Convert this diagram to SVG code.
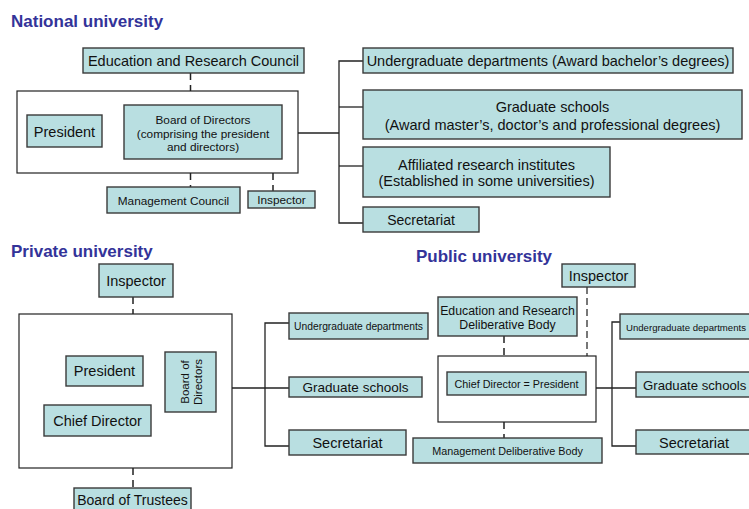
<svg xmlns="http://www.w3.org/2000/svg" width="749" height="509" viewBox="0 0 749 509">
  <style>
    .title { font-family: "Liberation Sans", Arial, sans-serif; font-weight: bold; font-size: 17px; fill: #333399; }
    .box { fill: #b9dfe1; stroke: #3a3a3a; stroke-width: 1.4; }
    .frame { fill: #ffffff; stroke: #222222; stroke-width: 1.2; }
    .t { font-family: "Liberation Sans", Arial, sans-serif; fill: #111111; text-anchor: middle; }
    .ts { font-family: "Liberation Sans", Arial, sans-serif; fill: #111111; text-anchor: start; }
    .line { fill: none; stroke: #222222; stroke-width: 1.3; }
    .dash { fill: none; stroke: #222222; stroke-width: 1.5; stroke-dasharray: 7 5; }
    .gdash { fill: none; stroke: #777777; stroke-width: 2; stroke-dasharray: 7 4; }
  </style>

  <!-- section headings -->
  <text class="title" x="11" y="27">National university</text>
  <text class="title" x="11" y="257">Private university</text>
  <text class="title" x="416" y="262">Public university</text>

  <!-- connectors -->
  <g id="connectors">
    <!-- national -->
    <path class="dash" d="M190.5 73 V91"/>
    <path class="dash" d="M190.5 173 V187"/>
    <path class="dash" d="M273 173 V191"/>
    <path class="line" d="M298 133 H339"/>
    <path class="line" d="M363 61 H339 V223 H363"/>
    <path class="line" d="M339 107 H363"/>
    <path class="line" d="M339 166 H363"/>
    <!-- private -->
    <path class="dash" d="M133 297 V314"/>
    <path class="dash" d="M133 468 V488"/>
    <path class="line" d="M232 388 H289"/>
    <path class="line" d="M289 323 H265 V446 H289"/>
    <!-- public -->
    <path class="dash" d="M504 336 V356"/>
    <path class="dash" d="M504 422 V438"/>
    <path class="gdash" d="M587 287 V356"/>
    <path class="line" d="M596 388 H636"/>
    <path class="line" d="M620 322 H612 V446 H636"/>
  </g>

  <!-- national university -->
  <g id="nat-erc">
    <rect class="box" x="83" y="48" width="221" height="25"/>
    <text class="t" x="193.5" y="66" font-size="14.5">Education and Research Council</text>
  </g>
  <g id="nat-frame">
    <rect class="frame" x="17" y="91" width="281" height="82"/>
  </g>
  <g id="nat-president">
    <rect class="box" x="27" y="115" width="75" height="32"/>
    <text class="t" x="64.5" y="136.5" font-size="14.5">President</text>
  </g>
  <g id="nat-board">
    <rect class="box" x="124" y="105" width="158" height="54"/>
    <text class="t" x="203" y="124" font-size="11.8">Board of Directors</text>
    <text class="t" x="203" y="137.5" font-size="11.8">(comprising the president</text>
    <text class="t" x="203" y="151" font-size="11.8">and directors)</text>
  </g>
  <g id="nat-mgmt">
    <rect class="box" x="107" y="187" width="133" height="26"/>
    <text class="t" x="173.5" y="204.5" font-size="11.8">Management Council</text>
  </g>
  <g id="nat-inspector">
    <rect class="box" x="248" y="191" width="67" height="17"/>
    <text class="t" x="281.5" y="203.5" font-size="11.8">Inspector</text>
  </g>
  <g id="nat-undergrad">
    <rect class="box" x="363" y="48" width="370" height="25"/>
    <text class="t" x="548" y="66" font-size="14.5">Undergraduate departments (Award bachelor’s degrees)</text>
  </g>
  <g id="nat-graduate">
    <rect class="box" x="363" y="90" width="379" height="49"/>
    <text class="t" x="552.5" y="111.5" font-size="14.5">Graduate schools</text>
    <text class="t" x="552.5" y="130" font-size="14.5">(Award master’s, doctor’s and professional degrees)</text>
  </g>
  <g id="nat-institutes">
    <rect class="box" x="363" y="147" width="247" height="50"/>
    <text class="t" x="486.5" y="170" font-size="14.5">Affiliated research institutes</text>
    <text class="t" x="486.5" y="186" font-size="14.5">(Established in some universities)</text>
  </g>
  <g id="nat-secretariat">
    <rect class="box" x="363" y="207" width="116" height="25"/>
    <text class="t" x="421" y="224.5" font-size="14">Secretariat</text>
  </g>

  <!-- private university -->
  <g id="pri-inspector">
    <rect class="box" x="99" y="264" width="74" height="33"/>
    <text class="t" x="136" y="286" font-size="14.5">Inspector</text>
  </g>
  <g id="pri-frame">
    <rect class="frame" x="19" y="314" width="213" height="154"/>
  </g>
  <g id="pri-president">
    <rect class="box" x="66" y="356" width="77" height="30"/>
    <text class="t" x="104.5" y="376" font-size="14.5">President</text>
  </g>
  <g id="pri-chief">
    <rect class="box" x="44" y="405" width="107" height="31"/>
    <text class="t" x="97.5" y="425.5" font-size="14.5">Chief Director</text>
  </g>
  <g id="pri-board">
    <rect class="box" x="165" y="352" width="51" height="60"/>
    <text class="t" transform="translate(190.5 382) rotate(-90)" y="-2" font-size="11.5" fill="#444444">Board of</text>
    <text class="t" transform="translate(190.5 382) rotate(-90)" y="11" font-size="11.5" fill="#444444">Directors</text>
  </g>
  <g id="pri-trustees">
    <rect class="box" x="74" y="488" width="117" height="30"/>
    <text class="t" x="132.5" y="505" font-size="14">Board of Trustees</text>
  </g>
  <g id="pri-undergrad">
    <rect class="box" x="289" y="313" width="139" height="26"/>
    <text class="t" x="358.5" y="330" font-size="10.3">Undergraduate departments</text>
  </g>
  <g id="pri-graduate">
    <rect class="box" x="289" y="377" width="133" height="20"/>
    <text class="t" x="355.5" y="392" font-size="13.5">Graduate schools</text>
  </g>
  <g id="pri-secretariat">
    <rect class="box" x="289" y="430" width="117" height="25"/>
    <text class="t" x="347.5" y="447.5" font-size="14.5">Secretariat</text>
  </g>

  <!-- public university -->
  <g id="pub-inspector">
    <rect class="box" x="562" y="264" width="73" height="23"/>
    <text class="t" x="598.5" y="281" font-size="14.5">Inspector</text>
  </g>
  <g id="pub-erdb">
    <rect class="box" x="438" y="297" width="139" height="39"/>
    <text class="t" x="507.5" y="314.5" font-size="12.3">Education and Research</text>
    <text class="t" x="507.5" y="328.5" font-size="12.3">Deliberative Body</text>
  </g>
  <g id="pub-frame">
    <rect class="frame" x="438" y="356" width="158" height="66"/>
  </g>
  <g id="pub-chief">
    <rect class="box" x="447" y="372" width="139" height="23"/>
    <text class="t" x="516.5" y="387.5" font-size="10.8">Chief Director = President</text>
  </g>
  <g id="pub-mgmt">
    <rect class="box" x="413" y="438" width="189" height="25"/>
    <text class="t" x="507.5" y="454.5" font-size="10.8">Management Deliberative Body</text>
  </g>
  <g id="pub-undergrad">
    <rect class="box" x="620" y="314" width="140" height="25"/>
    <text class="ts" x="626" y="330.5" font-size="9.6">Undergraduate departments</text>
  </g>
  <g id="pub-graduate">
    <rect class="box" x="636" y="372" width="124" height="25"/>
    <text class="ts" x="643" y="389.5" font-size="13.2">Graduate schools</text>
  </g>
  <g id="pub-secretariat">
    <rect class="box" x="636" y="430" width="124" height="24"/>
    <text class="ts" x="659" y="447.5" font-size="14.5">Secretariat</text>
  </g>
</svg>
